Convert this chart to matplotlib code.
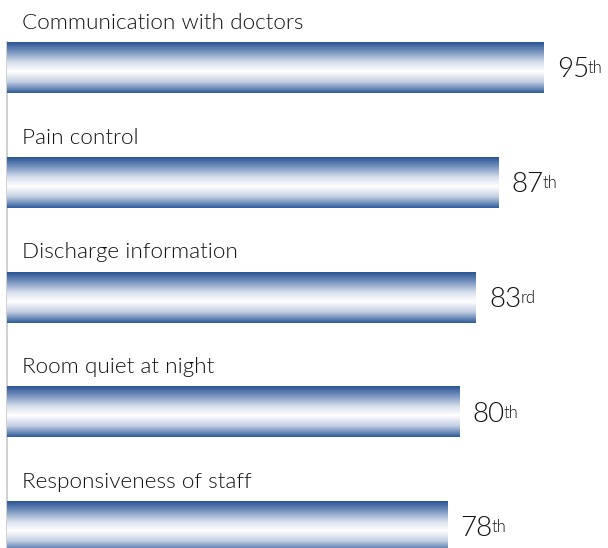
import numpy as np
import matplotlib
matplotlib.use('Agg')
import matplotlib.pyplot as plt
from matplotlib.colors import LinearSegmentedColormap

categories = ['Communication with doctors', 'Pain control', 'Discharge information',
              'Room quiet at night', 'Responsiveness of staff']
values = [95, 87, 83, 80, 78]
suffixes = ['th', 'th', 'rd', 'th', 'th']

FONT = 'Lato'
WEIGHT = 350
BAR_H = 0.444

# dark blue edges, white band a little below the middle
bar_cmap = LinearSegmentedColormap.from_list('bar', [
    (0.0, '#2a5494'), (0.18, '#7390bd'), (0.4, '#d9e1ee'),
    (0.58, '#ffffff'), (0.78, '#c3cfe3'), (1.0, '#2e5b9a')])
grad = np.linspace(0, 1, 256).reshape(-1, 1)

fig = plt.figure(figsize=(6.08, 5.48), dpi=100)
ax = fig.add_axes([0, 0, 1, 1])
ax.axis('off')

# thin gray axis line behind the bars
ax.plot([0.05, 0.05], [-BAR_H / 2, 4.186], color='#c8c8c8', lw=1.2, zorder=1)

num_texts = []
for i, (cat, val) in enumerate(zip(categories, values)):
    ax.imshow(grad, cmap=bar_cmap, aspect='auto', interpolation='bilinear',
              extent=(0, val, i + BAR_H / 2, i - BAR_H / 2), zorder=2)
    ax.text(2.65, i - 0.39, cat, fontsize=16.2, family=FONT, weight=WEIGHT,
            color='#111111', va='center', ha='left')
    t = ax.text(val + 2.3, i + 0.02, str(val), fontsize=20, family=FONT,
                weight=WEIGHT, color='#111111', va='center', ha='left')
    num_texts.append(t)

ax.set_xlim(-1.24, 106.37)
ax.set_ylim(4.186, -0.588)

fig.canvas.draw()
renderer = fig.canvas.get_renderer()
inv = ax.transData.inverted()
for t, suf in zip(num_texts, suffixes):
    bb = t.get_window_extent(renderer)
    x, y = inv.transform((bb.x1 - 1, bb.y1 - 3))
    ax.text(x, y, suf, fontsize=12, family=FONT, weight=WEIGHT,
            color='#111111', va='top', ha='left')

fig.savefig('out.png', dpi=100)
